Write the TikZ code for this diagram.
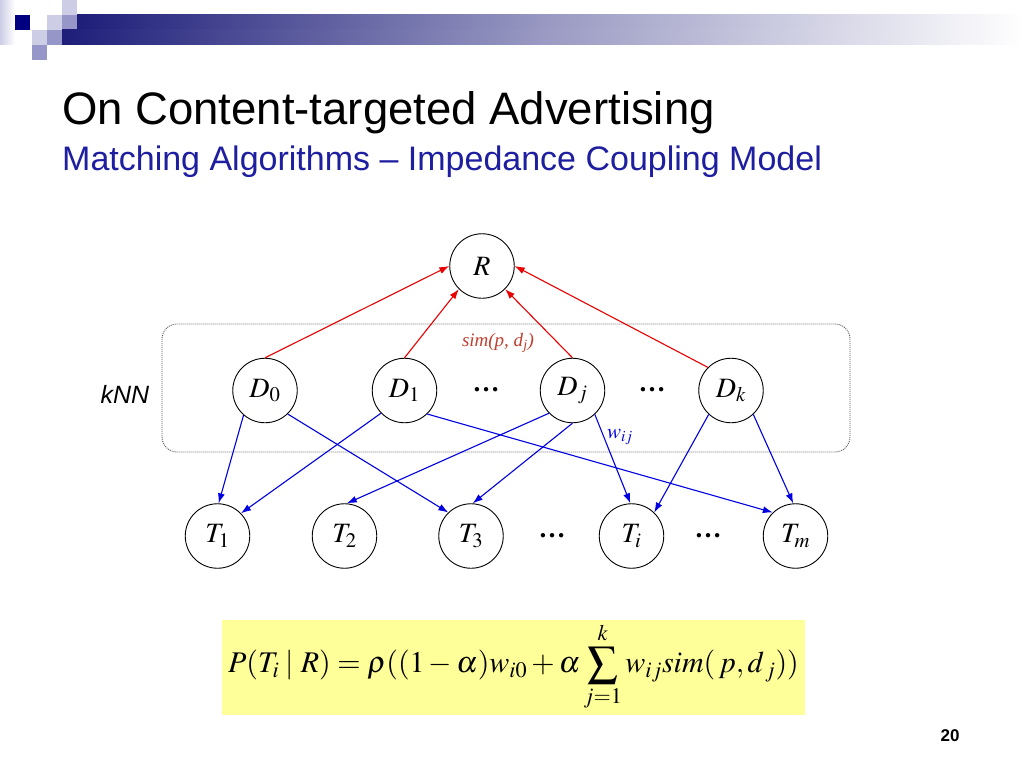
\documentclass[tikz,border=0pt]{standalone}
\usepackage{mathptmx}
\usepackage[no-math]{fontspec}
\setmainfont{Liberation Sans}
\newfontfamily\tms{Liberation Serif}
\usetikzlibrary{arrows.meta}
\definecolor{navysq}{RGB}{0,0,128}
\definecolor{barnavy}{RGB}{30,30,122}
\definecolor{lavlight}{RGB}{205,205,230}
\definecolor{lavmid}{RGB}{150,150,200}
\definecolor{arrred}{RGB}{235,0,0}
\definecolor{arrblue}{RGB}{0,0,225}
\definecolor{simcol}{RGB}{192,64,48}
\definecolor{subblue}{RGB}{30,30,160}
\definecolor{formyellow}{RGB}{255,255,153}
\begin{document}
\begin{tikzpicture}[x=1pt,y=-1pt,
  vnode/.style={draw,circle,minimum size=64.5pt,inner sep=0pt,line width=0.9pt,
    font=\fontsize{28}{30}\selectfont},
  dotsnode/.style={anchor=base,inner sep=0pt,font=\fontsize{27}{30}\selectfont\tms\bfseries},
  redarr/.style={draw=arrred,line width=1.1pt,-{Latex[length=10pt,width=7pt]}},
  bluearr/.style={draw=arrblue,line width=1.1pt,-{Latex[length=10pt,width=7pt]}}]
\useasboundingbox (0,0) rectangle (1024,768);
\fill[white] (0,0) rectangle (1024,768);
% header decoration
\shade[left color=lavlight,right color=white] (0,0) rectangle (15,45);
\fill[navysq] (15,15) rectangle (30,30);
\fill[lavlight] (47,15) rectangle (62,30);
\fill[lavlight] (62,0) rectangle (77,15);
\fill[lavmid] (62,15) rectangle (77,30);
\fill[lavlight] (32,30) rectangle (47,45);
\fill[lavmid] (47,30) rectangle (62,45);
\fill[lavmid] (32,45) rectangle (47,60);
\shade[left color=barnavy,right color=white,middle color=barnavy!45!white] (77,15) rectangle (1024,30);
\shade[left color=barnavy,right color=white,middle color=barnavy!45!white] (62,30) rectangle (1024,45);
% titles
\node[anchor=base west,inner sep=0pt,font=\fontsize{45.5}{50}\selectfont] (title) at (62,124) {On Content-targeted Advertising};
\node[anchor=base west,inner sep=0pt,text=subblue,font=\fontsize{34}{38}\selectfont] (subtitle) at (62,170) {Matching Algorithms -- Impedance Coupling Model};
% kNN box
\draw[gray!70!black,line width=0.9pt,dash pattern=on 1pt off 1pt,rounded corners=15pt] (162,324) rectangle (850,452);
\node[anchor=base,inner sep=0pt,font=\fontsize{25}{28}\selectfont\itshape] (knn) at (125,403) {kNN};
% nodes
\node[vnode] (R) at (482,266) {$R$};
\node[vnode] (D0) at (265,390.5) {$D_0$};
\node[vnode] (D1) at (404.5,390.5) {$D_1$};
\node[vnode] (Dj) at (572.5,390.5) {$D_j$};
\node[vnode] (Dk) at (731,390.5) {$D_k$};
\node[vnode] (T1) at (217.5,536) {$T_1$};
\node[vnode] (T2) at (344.5,536) {$T_2$};
\node[vnode] (T3) at (471,536) {$T_3$};
\node[vnode] (Ti) at (631.5,536) {$T_i$};
\node[vnode] (Tm) at (795.5,536) {$T_m$};
\node[dotsnode] (dd1) at (486,391) {…};
\node[dotsnode] (dd2) at (652,391) {…};
\node[dotsnode] (td1) at (552,537) {…};
\node[dotsnode] (td2) at (708,537) {…};
% red arrows
\draw[redarr] (D0.north) -- (R.west);
\draw[redarr] (D1.north) -- (R.225);
\draw[redarr] (Dj.north) -- (R.-45);
\draw[redarr] (Dk.135) -- (R.east);
% blue arrows
\draw[bluearr] (D0.229) -- (T1.88);
\draw[bluearr] (D0.-46) -- (T3.134);
\draw[bluearr] (D1.224) -- (T1.44);
\draw[bluearr] (D1.-46) -- (Tm.134);
\draw[bluearr] (Dj.224) -- (T2.86);
\draw[bluearr] (Dj.south) -- (T3.87);
\draw[bluearr] (Dj.-47) -- (Ti.92);
\draw[bluearr] (Dk.227) -- (Ti.46);
\draw[bluearr] (Dk.-47) -- (Tm.94);
% labels
\node[inner sep=0pt,text=simcol,font=\fontsize{19}{22}\selectfont\tms\itshape] (simlab) at (498,343) {sim(p, d\textsubscript{j})};
\node[inner sep=0pt,text=arrblue,font=\fontsize{21}{24}\selectfont] (wlab) at (620,437) {$w_{ij}$};
% formula
\fill[formyellow] (222,620) rectangle (805,715);
\node[inner sep=0pt,font=\fontsize{30}{34}\selectfont] (formula) at (513.5,667) {$\displaystyle P(T_i\;|\;R)=\rho((1-\alpha)w_{i0}+\alpha\sum_{j=1}^{k}w_{ij}\mathit{sim}(\,p,d_{\,j}))$};
% page number
\node[anchor=base,inner sep=0pt,font=\fontsize{17}{20}\selectfont\bfseries] (pnum) at (950,741) {20};
\end{tikzpicture}
\end{document}
